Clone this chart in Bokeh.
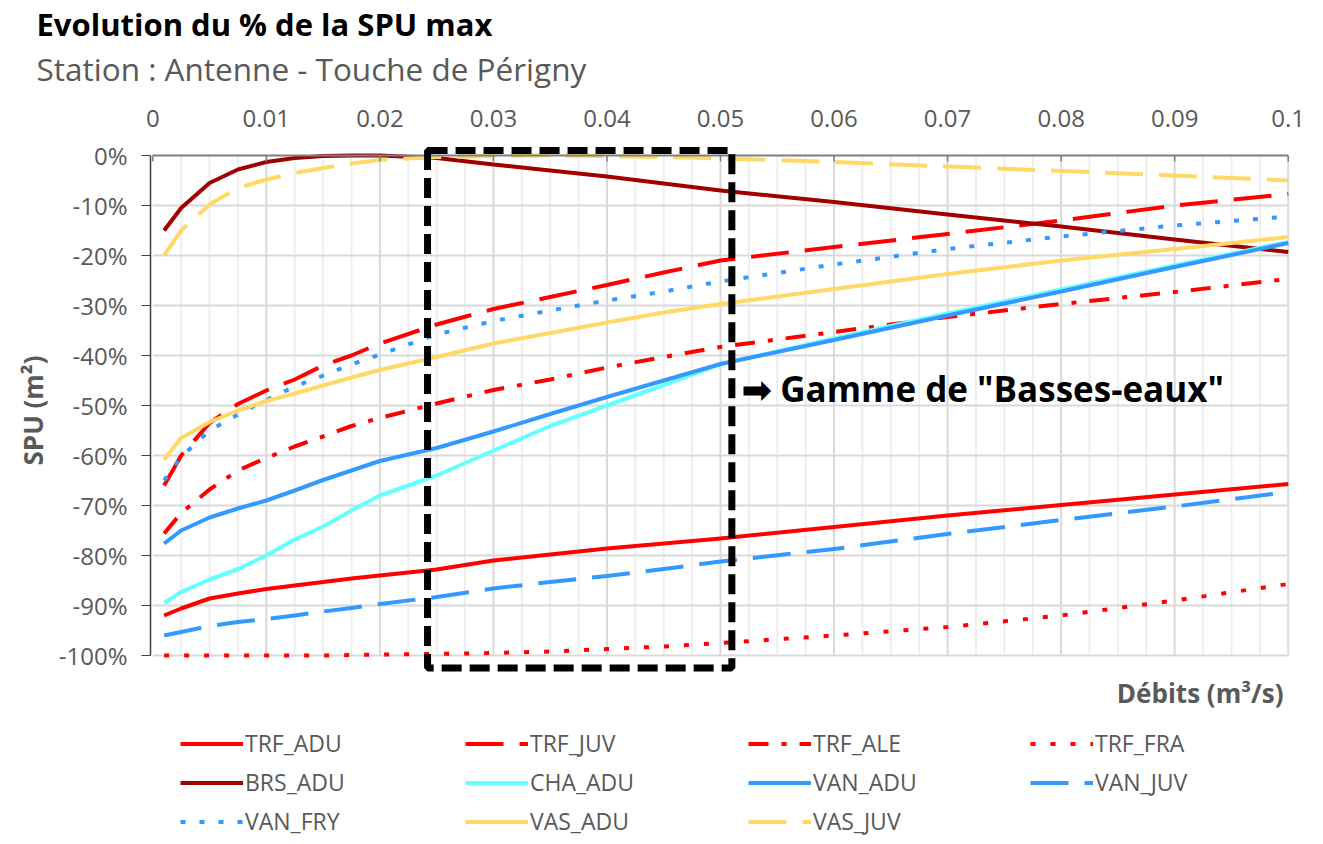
import numpy as np
from bokeh.plotting import figure
from bokeh.layouts import column
from bokeh.models import (Range1d, FixedTicker, CustomJSTickFormatter, Legend, LegendItem,
                          BoxAnnotation, Label, Title)
from bokeh.embed import file_html
from bokeh.resources import INLINE

# ---------------- data ----------------
debits = [0.001, 0.0025, 0.005, 0.0075, 0.01, 0.0125, 0.015, 0.0175, 0.02, 0.025,
          0.03, 0.035, 0.04, 0.045, 0.05, 0.06, 0.07, 0.08, 0.09, 0.1]

TRF_ADU = [-92, -90.6, -88.6, -87.6, -86.7, -86, -85.3, -84.6, -84, -82.8,
           -81, -79.8, -78.6, -77.6, -76.6, -74.3, -72, -69.9, -67.8, -65.7]
TRF_JUV = [-66, -60, -53.5, -49.7, -47, -44.8, -42, -40, -37.6, -33.8,
           -30.7, -28.3, -25.9, -23.4, -21, -18.3, -15.7, -13, -10, -7.7]
TRF_ALE = [-75.6, -71.5, -66.8, -63, -60.5, -58.2, -56.2, -54.1, -52.5, -49.6,
           -46.9, -44.8, -42.4, -40.3, -38.3, -35.3, -32.3, -29.7, -27.3, -24.7]
TRF_FRA = [-100, -100, -100, -100, -100, -100, -100, -99.9, -99.8, -99.7,
           -99.5, -99.2, -98.7, -98.2, -97.5, -96, -94.3, -92, -89, -85.7]
BRS_ADU = [-15, -10.5, -5.5, -2.8, -1.3, -0.5, -0.1, 0, 0, -0.5,
           -1.8, -3, -4.2, -5.6, -7, -9.3, -11.8, -14.2, -16.8, -19.3]
CHA_ADU = [-89.5, -87.3, -84.8, -82.7, -80, -76.8, -74.2, -71, -68, -64,
           -59, -54.1, -50, -45.9, -41.7, -36.6, -31.6, -26.8, -22, -17.3]
VAN_ADU = [-77.6, -75, -72.4, -70.6, -69, -67, -64.9, -63, -61.1, -58.5,
           -55.2, -51.7, -48.3, -45, -41.7, -36.9, -32, -27.2, -22.3, -17.5]
VAN_JUV = [-96, -95.3, -94.1, -93.3, -92.7, -92, -91.2, -90.5, -89.7, -88.3,
           -86.6, -85.3, -84.1, -82.7, -81.2, -78.7, -75.7, -72.9, -70.2, -67.3]
VAN_FRY = [-65, -60.3, -55, -51.8, -48.9, -46.2, -44, -41.8, -39.8, -35.8,
           -33.1, -31, -29, -27.2, -25.2, -21.8, -18.7, -16.2, -14, -12.2]
VAS_ADU = [-60.8, -56.5, -53.3, -51, -49.1, -47.6, -46, -44.4, -42.9, -40.3,
           -37.6, -35.5, -33.4, -31.4, -29.7, -26.7, -23.7, -21, -18.7, -16.3]
VAS_JUV = [-20, -15, -9.8, -6.5, -4.8, -3.5, -2.5, -1.6, -0.9, -0.3,
           -0.1, 0, -0.1, -0.3, -0.6, -1.3, -2.2, -3.1, -4, -5]

series_names = ["TRF_ADU", "TRF_JUV", "TRF_ALE", "TRF_FRA",
                "BRS_ADU", "CHA_ADU", "VAN_ADU", "VAN_JUV",
                "VAN_FRY", "VAS_ADU", "VAS_JUV"]
series_values = [TRF_ADU, TRF_JUV, TRF_ALE, TRF_FRA, BRS_ADU, CHA_ADU,
                 VAN_ADU, VAN_JUV, VAN_FRY, VAS_ADU, VAS_JUV]

x_ticks = [round(i * 0.01, 2) for i in range(11)]
y_ticks = list(range(-100, 1, 10))

gamme_left, gamme_right = 0.0242, 0.051

# ---------------- styles ----------------
RED, DRED, CYAN, BLUE, YEL = "#ff0000", "#a00000", "#66ffff", "#3399ff", "#ffd966"
LONG = "38 16"
DASHDOT = "20 13 5 13"
styles = {
    "TRF_ADU": (RED, "solid"), "TRF_JUV": (RED, LONG), "TRF_ALE": (RED, DASHDOT),
    "TRF_FRA": (RED, "5 15"), "BRS_ADU": (DRED, "solid"), "CHA_ADU": (CYAN, "solid"),
    "VAN_ADU": (BLUE, "solid"), "VAN_JUV": (BLUE, LONG), "VAN_FRY": (BLUE, "5 14"),
    "VAS_ADU": (YEL, "solid"), "VAS_JUV": (YEL, LONG),
}
FONT = "Open Sans"
GREY = "#595959"
W = 1307
LEFT, RIGHT = 150, 17

p = figure(frame_width=W - LEFT - RIGHT, frame_height=530,
           x_range=Range1d(-0.0002, 0.1002), y_range=Range1d(-104, 2),
           output_backend="svg", toolbar_location=None, x_axis_location="above",
           min_border_left=LEFT, min_border_right=RIGHT, min_border_top=145,
           min_border_bottom=0)
p.grid.visible = False
p.outline_line_color = None
p.background_fill_color = "white"
p.border_fill_color = "white"

# above panels: axis, spacer, subtitle, title (outermost)
p.add_layout(Title(text=" ", text_font_size="1px", standoff=14), "above")
p.add_layout(Title(text="Station : Antenne - Touche de Périgny", align="left", offset=-114,
                   text_font=FONT, text_font_style="normal", text_font_size="31.5px",
                   text_color=GREY, standoff=0), "above")
p.title.text = "Evolution du % de la SPU max"
p.title.align = "left"
p.title.offset = -114
p.title.text_font = FONT
p.title.text_font_style = "bold"
p.title.text_font_size = "31px"
p.title.text_color = "black"
p.title.standoff = 0

# grid lines
minor_x = [i * 0.0025 for i in range(41) if i % 4 != 0]
major_x = [i * 0.01 for i in range(1, 11)]
p.segment(x0=minor_x, y0=[0] * len(minor_x), x1=minor_x, y1=[-100] * len(minor_x),
          line_color="#eeeeee", line_width=2)
p.segment(x0=major_x, y0=[0] * len(major_x), x1=major_x, y1=[-100] * len(major_x),
          line_color="#d9d9d9", line_width=2)
gy = y_ticks[:-1]
p.segment(x0=[0] * len(gy), y0=gy, x1=[0.1] * len(gy), y1=gy,
          line_color="#d9d9d9", line_width=2)

# series
for name, vals in zip(series_names, series_values):
    col, dash = styles[name]
    p.line(debits, vals, line_color=col, line_width=4, line_dash=dash,
           line_cap="butt", line_join="round")

# 0% axis line with inner ticks
p.segment(x0=[0], y0=[0], x1=[0.1], y1=[0], line_color="#7f7f7f", line_width=2)
p.segment(x0=x_ticks, y0=[0] * len(x_ticks), x1=x_ticks, y1=[-1.2] * len(x_ticks),
          line_color="#7f7f7f", line_width=1.5)

# axes
xa = p.xaxis[0]
xa.ticker = FixedTicker(ticks=x_ticks)
xa.formatter = CustomJSTickFormatter(code="return Number(tick.toFixed(4)).toString()")
xa.axis_line_color = None
xa.major_tick_in = 0
xa.major_tick_out = 0
xa.minor_tick_line_color = None
xa.major_label_standoff = 19
xa.major_label_text_font = FONT
xa.major_label_text_font_size = "24px"
xa.major_label_text_color = GREY

ya = p.yaxis[0]
ya.ticker = FixedTicker(ticks=y_ticks)
ya.formatter = CustomJSTickFormatter(code="return tick.toFixed(0) + '%'")
ya.bounds = (-100, 0)
ya.axis_line_color = "#404040"
ya.axis_line_width = 1.5
ya.major_tick_out = 9
ya.major_tick_in = 0
ya.major_tick_line_color = "#404040"
ya.minor_tick_line_color = None
ya.major_label_standoff = 14
ya.major_label_text_font = FONT
ya.major_label_text_font_size = "24px"
ya.major_label_text_color = GREY
ya.axis_label = "SPU (m²)"
ya.axis_label_text_font = FONT
ya.axis_label_text_font_style = "bold"
ya.axis_label_text_font_size = "26px"
ya.axis_label_text_color = GREY
ya.axis_label_standoff = 5

# low-water range box
box = BoxAnnotation(left=gamme_left, right=gamme_right, top=1.0, bottom=-102.5,
                    fill_color=None, fill_alpha=0, line_color="black", line_alpha=1,
                    line_width=7, line_dash="20 8")
p.add_layout(box)

p.add_layout(Label(x=0.0519, y=-46.6, text='➡ Gamme de "Basses-eaux"',
                   text_font=FONT, text_font_style="bold", text_font_size="35px",
                   text_color="black", text_baseline="middle", text_align="left"))

# ---------------- legend strip (second figure, frame aligned with the chart) -------
LH = 165
q = figure(width=W, height=LH, x_range=Range1d(LEFT, W - RIGHT), y_range=Range1d(0, LH),
           output_backend="svg", toolbar_location=None,
           x_axis_location=None, y_axis_location=None,
           min_border_left=LEFT, min_border_right=RIGHT, min_border_top=0,
           min_border_bottom=0)
q.grid.visible = False
q.outline_line_color = None
q.background_fill_color = "white"
q.border_fill_color = "white"

q.add_layout(Label(x=1283, y=LH - 17, text="Débits (m³/s)", text_font=FONT,
                   text_font_style="bold", text_font_size="26px", text_color=GREY,
                   text_baseline="middle", text_align="right"))

renderers = {}
for name in series_names:
    col, dash = styles[name]
    renderers[name] = q.line(x=[LEFT, LEFT + 1], y=[-50, -50], line_color=col,
                             line_width=4, line_dash=dash, line_cap="butt")

ncols = 4
col_x = [180, 465, 748, 1030]
ROW_H, GAP, TOP = 33, 6, 51.5
for c in range(ncols):
    names = series_names[c::ncols]
    h = len(names) * ROW_H + (len(names) - 1) * GAP
    leg = Legend(items=[LegendItem(label=n, renderers=[renderers[n]]) for n in names],
                 orientation="vertical", location=(col_x[c] - LEFT, LH - TOP - h),
                 padding=0, margin=0, spacing=GAP, glyph_width=63, glyph_height=ROW_H,
                 label_height=ROW_H, label_standoff=2,
                 label_text_font=FONT, label_text_font_size="23px",
                 label_text_color=GREY, border_line_color=None,
                 background_fill_alpha=0)
    q.add_layout(leg)

layout = column(p, q, spacing=0)
open("out.html", "w").write(file_html(layout, INLINE))
